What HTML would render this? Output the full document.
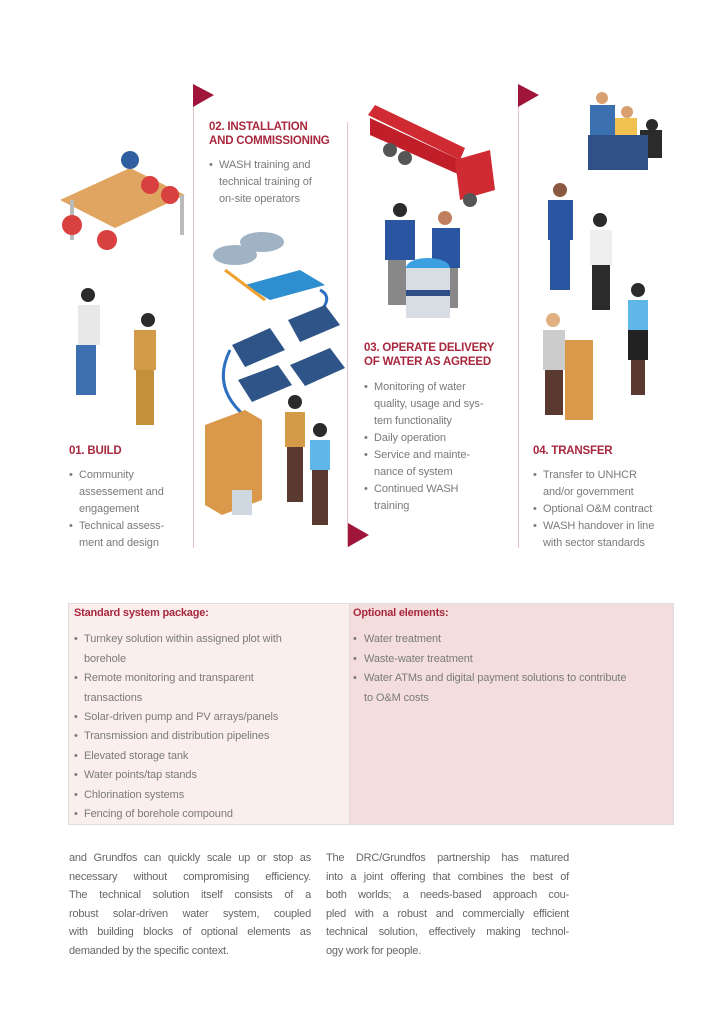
<!DOCTYPE html>
<html><head><meta charset="utf-8"><style>
body{margin:0;width:724px;height:1024px;background:#fff;position:relative;overflow:hidden;font-family:"Liberation Sans",sans-serif}
.t{position:absolute;white-space:nowrap;font-size:11px;color:#7a7a7a;line-height:14px;letter-spacing:-0.1px}
.h{position:absolute;white-space:nowrap;font-size:11.5px;font-weight:bold;color:#a8283e;line-height:14px;letter-spacing:-0.2px}
.b{position:absolute;white-space:nowrap;font-size:11px;color:#7a7a7a;line-height:14px}
.vl{position:absolute;width:1px;background:#e3c3c8}
.l{position:absolute;font-size:11px;color:#666;line-height:14px;white-space:nowrap;text-align:justify;text-align-last:justify;letter-spacing:-0.2px}
.l.e{text-align-last:left}
</style></head><body>
<div class="vl" style="left:193px;top:85px;height:463px"></div>
<div class="vl" style="left:347px;top:122px;height:425px"></div>
<div class="vl" style="left:518px;top:85px;height:463px"></div>
<svg style="position:absolute;left:0;top:0" width="724" height="600">
<polygon points="193,84 214,95 193,107" fill="#a0163a"/>
<polygon points="518,84 539,95 518,107" fill="#a0163a"/>
<polygon points="348,523 369,535 348,547" fill="#a0163a"/>
<polygon points="60,200 130,168 185,195 115,228" fill="#e0a560"/>
<rect x="70" y="200" width="4" height="40" fill="#bbb"/><rect x="180" y="195" width="4" height="40" fill="#bbb"/>
<circle cx="72" cy="225" r="10" fill="#d94040"/><circle cx="107" cy="240" r="10" fill="#d94040"/><circle cx="150" cy="185" r="9" fill="#d94040"/><circle cx="170" cy="195" r="9" fill="#d94040"/><circle cx="130" cy="160" r="9" fill="#2f5fa0"/>
<circle cx="88" cy="295" r="7" fill="#2b2b2b"/><rect x="78" y="305" width="22" height="40" fill="#e8e8e8"/><rect x="76" y="345" width="20" height="50" fill="#3d6fb0"/>
<circle cx="148" cy="320" r="7" fill="#2b2b2b"/><rect x="134" y="330" width="22" height="40" fill="#d39a48"/><rect x="136" y="370" width="18" height="55" fill="#c5903a"/>
<ellipse cx="235" cy="255" rx="22" ry="10" fill="#9fb3c4"/><ellipse cx="262" cy="242" rx="22" ry="10" fill="#9fb3c4"/>
<polygon points="245,285 300,270 325,285 270,300" fill="#2d8fd0"/>
<line x1="225" y1="270" x2="265" y2="300" stroke="#f0a030" stroke-width="3"/>
<path d="M320,290 Q340,300 300,330" stroke="#2d6fc0" stroke-width="3" fill="none"/>
<path d="M230,350 Q210,390 250,420" stroke="#2d6fc0" stroke-width="3" fill="none"/>
<polygon points="288,320 325,305 340,325 300,342" fill="#2f5488"/>
<polygon points="232,345 270,328 285,350 245,367" fill="#2f5488"/>
<polygon points="290,365 330,348 345,368 305,386" fill="#2f5488"/>
<polygon points="238,380 278,365 292,385 252,402" fill="#2f5488"/>
<polygon points="205,425 245,410 262,420 262,500 222,515 205,505" fill="#d9984a"/>
<rect x="232" y="490" width="20" height="25" fill="#cfd8e0"/>
<circle cx="295" cy="402" r="7" fill="#2b2b2b"/><rect x="285" y="412" width="20" height="35" fill="#d39a48"/><rect x="287" y="447" width="16" height="55" fill="#5a3a30"/>
<circle cx="320" cy="430" r="7" fill="#2b2b2b"/><rect x="310" y="440" width="20" height="30" fill="#5fb6e8"/><rect x="312" y="470" width="16" height="55" fill="#5a3a30"/>
<polygon points="368,115 375,105 465,148 460,160" fill="#d02b33"/>
<polygon points="370,118 460,160 460,175 370,135" fill="#c01f2a"/>
<polygon points="455,160 490,150 495,190 460,200" fill="#d02b33"/>
<circle cx="390" cy="150" r="7" fill="#555"/><circle cx="405" cy="158" r="7" fill="#555"/><circle cx="470" cy="200" r="7" fill="#555"/>
<circle cx="400" cy="210" r="7" fill="#2b2b2b"/><rect x="385" y="220" width="30" height="40" fill="#2a55a0"/><rect x="388" y="260" width="18" height="45" fill="#888"/>
<circle cx="445" cy="218" r="7" fill="#c08060"/><rect x="432" y="228" width="28" height="40" fill="#2a55a0"/><rect x="440" y="268" width="18" height="40" fill="#888"/>
<ellipse cx="428" cy="268" rx="22" ry="10" fill="#3b9fe0"/><rect x="406" y="268" width="44" height="50" fill="#d8dde3"/><rect x="406" y="290" width="44" height="6" fill="#2d4f86"/>
<rect x="590" y="105" width="25" height="30" fill="#3a6fb0"/><rect x="615" y="118" width="22" height="28" fill="#f0c050"/><rect x="640" y="130" width="22" height="28" fill="#2b2b2b"/>
<circle cx="602" cy="98" r="6" fill="#d8a070"/><circle cx="627" cy="112" r="6" fill="#d8a070"/><circle cx="652" cy="125" r="6" fill="#2b2b2b"/>
<rect x="588" y="135" width="60" height="35" fill="#30508a"/>
<circle cx="560" cy="190" r="7" fill="#8a5a40"/><rect x="548" y="200" width="25" height="40" fill="#2a55a0"/><rect x="550" y="240" width="20" height="50" fill="#2a55a0"/>
<circle cx="600" cy="220" r="7" fill="#2b2b2b"/><rect x="590" y="230" width="22" height="35" fill="#eee"/><rect x="592" y="265" width="18" height="45" fill="#2b2b2b"/>
<rect x="565" y="340" width="28" height="80" fill="#d9984a"/><rect x="543" y="330" width="22" height="40" fill="#ccc"/><rect x="545" y="370" width="18" height="45" fill="#5a3a30"/><circle cx="553" cy="320" r="7" fill="#e0b080"/>
<circle cx="638" cy="290" r="7" fill="#2b2b2b"/><rect x="628" y="300" width="20" height="30" fill="#5fb6e8"/><rect x="628" y="330" width="20" height="30" fill="#222"/><rect x="631" y="360" width="14" height="35" fill="#5a3a30"/>
</svg>

<div class="h" style="left:209px;top:120px">02. INSTALLATION</div>
<div class="h" style="left:209px;top:134px">AND COMMISSIONING</div>
<div class="b" style="left:209px;top:158px">•</div><div class="t" style="left:219px;top:158px">WASH training and</div>
<div class="t" style="left:219px;top:175px">technical training of</div>
<div class="t" style="left:219px;top:192px">on-site operators</div>

<div class="h" style="left:69px;top:444px">01. BUILD</div>
<div class="b" style="left:69px;top:468px">•</div><div class="t" style="left:79px;top:468px">Community</div>
<div class="t" style="left:79px;top:485px">assessement and</div>
<div class="t" style="left:79px;top:502px">engagement</div>
<div class="b" style="left:69px;top:519px">•</div><div class="t" style="left:79px;top:519px">Technical assess-</div>
<div class="t" style="left:79px;top:536px">ment and design</div>

<div class="h" style="left:364px;top:341px">03. OPERATE DELIVERY</div>
<div class="h" style="left:364px;top:355px">OF WATER AS AGREED</div>
<div class="b" style="left:364px;top:380px">•</div><div class="t" style="left:374px;top:380px">Monitoring of water</div>
<div class="t" style="left:374px;top:397px">quality, usage and sys-</div>
<div class="t" style="left:374px;top:414px">tem functionality</div>
<div class="b" style="left:364px;top:431px">•</div><div class="t" style="left:374px;top:431px">Daily operation</div>
<div class="b" style="left:364px;top:448px">•</div><div class="t" style="left:374px;top:448px">Service and mainte-</div>
<div class="t" style="left:374px;top:465px">nance of system</div>
<div class="b" style="left:364px;top:482px">•</div><div class="t" style="left:374px;top:482px">Continued WASH</div>
<div class="t" style="left:374px;top:499px">training</div>

<div class="h" style="left:533px;top:444px">04. TRANSFER</div>
<div class="b" style="left:533px;top:468px">•</div><div class="t" style="left:543px;top:468px">Transfer to UNHCR</div>
<div class="t" style="left:543px;top:485px">and/or government</div>
<div class="b" style="left:533px;top:502px">•</div><div class="t" style="left:543px;top:502px">Optional O&amp;M contract</div>
<div class="b" style="left:533px;top:519px">•</div><div class="t" style="left:543px;top:519px">WASH handover in line</div>
<div class="t" style="left:543px;top:536px">with sector standards</div>

<div style="position:absolute;left:68px;top:603px;width:281px;height:220px;background:#fbefee;border:1px solid #ddd;border-right:none"></div>
<div style="position:absolute;left:349px;top:603px;width:323px;height:220px;background:#f3dedd;border:1px solid #ddd"></div>
<div class="h" style="left:74px;top:606px;font-size:11px">Standard system package:</div>
<div class="h" style="left:353px;top:606px;font-size:11px">Optional elements:</div>
<div class="b" style="left:74px;top:632px">•</div><div class="t" style="left:84px;top:632px">Turnkey solution within assigned plot with</div>
<div class="t" style="left:84px;top:652px">borehole</div>
<div class="b" style="left:74px;top:671px">•</div><div class="t" style="left:84px;top:671px">Remote monitoring and transparent</div>
<div class="t" style="left:84px;top:691px">transactions</div>
<div class="b" style="left:74px;top:710px">•</div><div class="t" style="left:84px;top:710px">Solar-driven pump and PV arrays/panels</div>
<div class="b" style="left:74px;top:729px">•</div><div class="t" style="left:84px;top:729px">Transmission and distribution pipelines</div>
<div class="b" style="left:74px;top:749px">•</div><div class="t" style="left:84px;top:749px">Elevated storage tank</div>
<div class="b" style="left:74px;top:768px">•</div><div class="t" style="left:84px;top:768px">Water points/tap stands</div>
<div class="b" style="left:74px;top:788px">•</div><div class="t" style="left:84px;top:788px">Chlorination systems</div>
<div class="b" style="left:74px;top:807px">•</div><div class="t" style="left:84px;top:807px">Fencing of borehole compound</div>
<div class="b" style="left:353px;top:632px">•</div><div class="t" style="left:364px;top:632px">Water treatment</div>
<div class="b" style="left:353px;top:652px">•</div><div class="t" style="left:364px;top:652px">Waste-water treatment</div>
<div class="b" style="left:353px;top:671px">•</div><div class="t" style="left:364px;top:671px">Water ATMs and digital payment solutions to contribute</div>
<div class="t" style="left:364px;top:691px">to O&amp;M costs</div>

<div class="l" style="left:69px;top:851px;width:242px">and Grundfos can quickly scale up or stop as</div>
<div class="l" style="left:69px;top:870px;width:242px">necessary without compromising efficiency.</div>
<div class="l" style="left:69px;top:888px;width:242px">The technical solution itself consists of a</div>
<div class="l" style="left:69px;top:907px;width:242px">robust solar-driven water system, coupled</div>
<div class="l" style="left:69px;top:925px;width:242px">with building blocks of optional elements as</div>
<div class="l e" style="left:69px;top:944px;width:242px">demanded by the specific context.</div>
<div class="l" style="left:326px;top:851px;width:243px">The DRC/Grundfos partnership has matured</div>
<div class="l" style="left:326px;top:870px;width:243px">into a joint offering that combines the best of</div>
<div class="l" style="left:326px;top:888px;width:243px">both worlds; a needs-based approach cou-</div>
<div class="l" style="left:326px;top:907px;width:243px">pled with a robust and commercially efficient</div>
<div class="l" style="left:326px;top:925px;width:243px">technical solution, effectively making technol-</div>
<div class="l e" style="left:326px;top:944px;width:243px">ogy work for people.</div>
</body></html>
